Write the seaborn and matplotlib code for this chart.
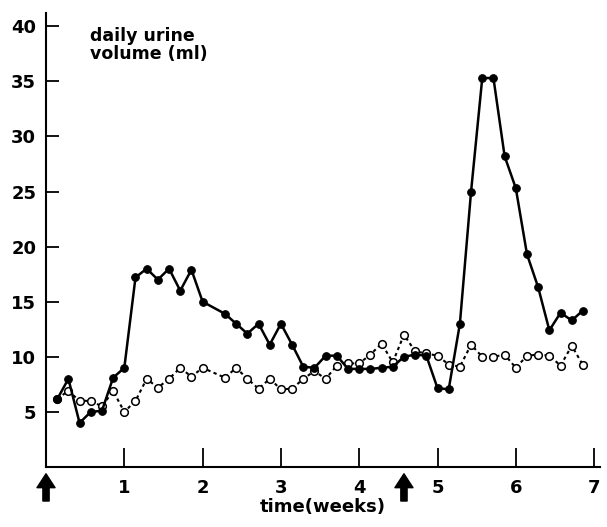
import numpy as np
import matplotlib
matplotlib.use("Agg")
import matplotlib.pyplot as plt
import seaborn as sns

# ----- Data (day of experiment, daily urine volume in ml) -----
days_filled = [1, 2, 3, 4, 5, 6, 7, 8, 9, 10, 11, 12, 13, 14, 16, 17, 18, 19, 20,
               21, 22, 23, 24, 25, 26, 27, 28, 29, 30, 31, 32, 33, 34, 35, 36, 37,
               38, 39, 40, 41, 42, 43, 44, 45, 46, 47, 48]
vol_filled = [6.15, 8.0, 4.0, 5.0, 5.1, 8.1, 9.0, 17.2, 18.0, 17.0, 18.0, 16.0, 17.9,
              15.0, 13.9, 13.0, 12.1, 13.0, 11.1, 13.0, 11.1, 9.1, 9.0, 10.1, 10.1,
              8.9, 8.9, 8.9, 9.0, 9.1, 10.0, 10.2, 10.1, 7.15, 7.05, 13.0, 25.0,
              35.3, 35.3, 28.2, 25.3, 19.3, 16.3, 12.4, 14.0, 13.3, 14.2]

days_open = [1, 2, 3, 4, 5, 6, 7, 8, 9, 10, 11, 12, 13, 14, 16, 17, 18, 19, 20,
             21, 22, 23, 24, 25, 26, 27, 28, 29, 30, 31, 32, 33, 34, 35, 36, 37,
             38, 39, 40, 41, 42, 43, 44, 45, 46, 47, 48]
vol_open = [6.2, 6.9, 6.0, 6.0, 5.5, 6.9, 5.0, 6.0, 8.0, 7.2, 8.0, 9.0, 8.2, 9.0,
            8.1, 9.0, 8.0, 7.1, 8.0, 7.05, 7.1, 8.0, 8.7, 8.0, 9.2, 9.4, 9.4, 10.2,
            11.2, 9.5, 12.0, 10.5, 10.3, 10.1, 9.3, 9.1, 11.1, 10.0, 10.0, 10.2,
            9.0, 10.1, 10.2, 10.1, 9.2, 11.0, 9.25]

week_ticks = [1, 2, 3, 4, 5, 6, 7]
vol_ticks = [5, 10, 15, 20, 25, 30, 35, 40]
arrow_weeks = [0, 32 / 7]

# ----- Plot -----
sns.set_style("ticks")
plt.rcParams["font.family"] = ["DejaVu Sans"]
plt.rcParams["font.weight"] = "bold"
for key in ["text.color", "axes.labelcolor", "xtick.color", "ytick.color", "axes.edgecolor"]:
    plt.rcParams[key] = "black"

fig = plt.figure(figsize=(6.07, 5.27), dpi=100)
ax = fig.add_axes([0.0758, 0.1139, 0.912, 0.8614])

weeks_open = np.array(days_open) / 7
weeks_filled = np.array(days_filled) / 7

sns.lineplot(x=weeks_open, y=vol_open, ax=ax, estimator=None, sort=False,
             color="black", linestyle=(0, (1.6, 1.6)), linewidth=1.5,
             marker="o", markersize=5.5, markerfacecolor="white",
             markeredgecolor="black", markeredgewidth=1.1, zorder=2)
sns.lineplot(x=weeks_filled, y=vol_filled, ax=ax, estimator=None, sort=False,
             color="black", linewidth=1.8, marker="o", markersize=5.5,
             markerfacecolor="black", markeredgecolor="black", zorder=3)

ax.set_xlim(0, 7.07)
ax.set_ylim(0, 41.2)
ax.set_xticks(week_ticks)
ax.set_xticklabels([str(w) for w in week_ticks], fontsize=13, fontweight="bold")
ax.set_yticks(vol_ticks)
ax.set_yticklabels([str(v) for v in vol_ticks], fontsize=13, fontweight="bold")
ax.tick_params(axis="x", direction="in", length=14, width=1.3, pad=9)
ax.tick_params(axis="y", direction="in", length=9, width=1.3, pad=7)

sns.despine(ax=ax)
for side in ["left", "bottom"]:
    ax.spines[side].set_linewidth(1.5)

ax.set_xlabel("time(weeks)", fontsize=13, fontweight="bold")
ax.xaxis.set_label_coords(0.5, -0.068)
ax.set_ylabel("")

ax.text(0.56, 39.9, "daily urine\nvolume (ml)", fontsize=12.5, fontweight="bold",
        ha="left", va="top", linespacing=1.0)

# arrows below the axis marking treatment times
for w in arrow_weeks:
    ax.annotate("", xy=(w, -0.015), xytext=(w, -0.075),
                xycoords=("data", "axes fraction"),
                textcoords=("data", "axes fraction"),
                arrowprops=dict(facecolor="black", edgecolor="black",
                                width=4.5, headwidth=13, headlength=10, shrink=0),
                annotation_clip=False)

fig.savefig("out.png", dpi=100)
